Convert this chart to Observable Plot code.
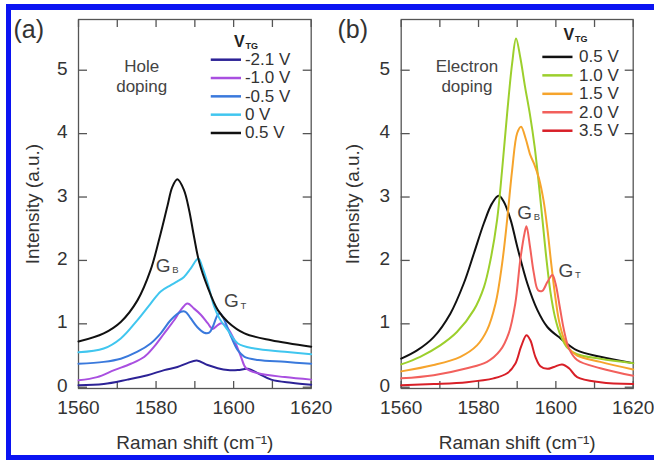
<!DOCTYPE html>
<html><head><meta charset="utf-8">
<script src="https://cdn.jsdelivr.net/npm/d3@7"></script>
<script src="https://cdn.jsdelivr.net/npm/@observablehq/plot@0.6"></script>
<style>
body{margin:0;background:#fff;}
#wrap{position:relative;width:654px;height:460px;overflow:hidden;background:#fff;font-family:"Liberation Sans",Arial,sans-serif;}
#wrap svg{position:absolute;top:0;overflow:visible;background:transparent;}
#border{position:absolute;left:6px;top:4px;width:700px;height:456px;box-sizing:border-box;border-left:5px solid #0b14f2;border-top:6px solid #0b14f2;border-bottom:5px solid #0b14f2;border-right:none;z-index:5;pointer-events:none;}
</style></head><body>
<div id="wrap"><div id="border"></div></div>
<script>
// ---- axes ----
const xDomain = [1560, 1620];
const yDomain = [-0.02, 5.8];
const xTickLabels = [1560, 1580, 1600, 1620];
const xTickMarks = [1560, 1570, 1580, 1590, 1600, 1610, 1620];
const yTicks = [0, 1, 2, 3, 4, 5];

// ---- panel (a): hole doping ----
const labelsA = ["-2.1 V", "-1.0 V", "-0.5 V", "0 V", "0.5 V"];
const specA_m21 = [[1560,0.03],[1566.5,0.05],[1572.6,0.12],[1577.8,0.19],[1582.1,0.27],[1585.5,0.32],[1588.1,0.38],[1590.5,0.42],[1593.3,0.35],[1595.9,0.30],[1598.5,0.27],[1601.1,0.27],[1603.7,0.29],[1606.3,0.22],[1609.7,0.12],[1614.9,0.07],[1620,0.04]];
const specA_m10 = [[1560,0.11],[1564.8,0.16],[1569.2,0.27],[1573.5,0.37],[1577,0.48],[1579.5,0.64],[1582.1,0.85],[1584.7,1.06],[1586.4,1.22],[1588.1,1.32],[1589.8,1.24],[1591.6,1.14],[1593.3,1.01],[1594.6,0.92],[1595.9,0.98],[1596.9,1.01],[1598.5,0.93],[1600.2,0.74],[1601.9,0.48],[1603.2,0.30],[1606.3,0.22],[1613.2,0.16],[1620,0.12]];
const specA_m05 = [[1560,0.37],[1566.5,0.40],[1570.9,0.45],[1575.2,0.56],[1578.6,0.69],[1581.2,0.85],[1583.8,1.06],[1586.4,1.19],[1587.6,1.19],[1588.9,1.09],[1590.6,0.95],[1592.4,0.86],[1593.7,0.86],[1594.6,0.95],[1595.9,1.14],[1596.6,1.16],[1597.6,1.06],[1599.4,0.79],[1601.1,0.58],[1602.8,0.48],[1606.3,0.43],[1613.2,0.40],[1620,0.37]];
const specA_0 = [[1560,0.55],[1566.5,0.61],[1570.9,0.77],[1575.2,1.06],[1578.6,1.32],[1581.2,1.51],[1583.8,1.61],[1585.5,1.67],[1587.2,1.74],[1588.9,1.87],[1590.9,2.03],[1591.9,1.90],[1593.3,1.64],[1595,1.27],[1596.3,1.09],[1598.5,0.90],[1601.1,0.69],[1605.4,0.61],[1613.2,0.56],[1620,0.52]];
const specA_05 = [[1560,0.72],[1566.5,0.85],[1570.9,1.03],[1575.2,1.37],[1578.6,1.85],[1581.2,2.43],[1582.9,2.85],[1584.2,3.16],[1585.5,3.28],[1587.2,3.11],[1588.5,2.80],[1589.8,2.37],[1591.1,1.98],[1593.3,1.58],[1595.9,1.22],[1598.5,1.03],[1602.8,0.85],[1609.7,0.74],[1620,0.64]];

// ---- panel (b): electron doping ----
const labelsB = ["0.5 V", "1.0 V", "1.5 V", "2.0 V", "3.5 V"];
const specB_05 = [[1560,0.45],[1564.1,0.58],[1568.4,0.79],[1572.7,1.16],[1576.2,1.64],[1578.8,2.11],[1581.4,2.59],[1583.5,2.90],[1585.2,3.02],[1586.5,2.93],[1588.3,2.64],[1590,2.22],[1592.6,1.64],[1595.2,1.22],[1597.8,0.95],[1601.2,0.77],[1605.5,0.58],[1611.5,0.48],[1620,0.38]];
const specB_10 = [[1560,0.36],[1564.9,0.48],[1570.1,0.66],[1574.4,0.87],[1578.8,1.22],[1581.4,1.58],[1583.1,2.01],[1584.8,2.64],[1586.1,3.43],[1587.4,4.32],[1588.7,5.11],[1589.7,5.50],[1590.8,5.2],[1592.0,4.75],[1593.3,4.3],[1594.5,3.8],[1595.6,3.2],[1596.6,2.6],[1597.6,2.0],[1598.6,1.5],[1599.8,1.1],[1601.2,0.82],[1603,0.62],[1605.5,0.52],[1611.5,0.45],[1620,0.38]];
const specB_15 = [[1560,0.25],[1568.4,0.35],[1575.3,0.48],[1579.6,0.66],[1582.2,0.90],[1584.4,1.32],[1586.1,1.95],[1587.4,2.64],[1588.7,3.43],[1590,4.01],[1591,4.11],[1592.2,3.92],[1593.4,3.66],[1594.4,3.52],[1595.6,3.3],[1596.8,2.95],[1597.8,2.5],[1598.8,1.95],[1599.8,1.45],[1600.8,1.05],[1602,0.78],[1603.5,0.6],[1605.5,0.5],[1611.5,0.40],[1620,0.28]];
const specB_20 = [[1560,0.14],[1568.4,0.19],[1577,0.30],[1582.2,0.40],[1585.6,0.58],[1587.8,0.85],[1589.5,1.32],[1590.8,2.01],[1591.9,2.43],[1592.4,2.54],[1593.3,2.22],[1594.3,1.80],[1595.4,1.53],[1596.5,1.52],[1597.8,1.66],[1599.1,1.77],[1599.9,1.64],[1601,1.27],[1602.1,0.90],[1603.4,0.61],[1605.5,0.43],[1611.5,0.30],[1620,0.18]];
const specB_35 = [[1560,0.03],[1568.4,0.05],[1577,0.08],[1583.9,0.14],[1587.4,0.22],[1589.5,0.37],[1591,0.64],[1592.4,0.82],[1593.4,0.74],[1594.7,0.48],[1596,0.33],[1597.8,0.29],[1599.5,0.32],[1601.6,0.36],[1603.4,0.30],[1605.5,0.16],[1611.5,0.08],[1620,0.05]];

// ---- annotations ----
const annotA = [{main: "G", sub: "B", x: 1579.9, y: 1.82}, {main: "G", sub: "T", x: 1597.5, y: 1.26}];
const annotB = [{main: "G", sub: "B", x: 1590.0, y: 2.66}, {main: "G", sub: "T", x: 1600.7, y: 1.74}];

// ---- styles ----
const colorsA = ["#2c2296", "#a94fe0", "#3a79dc", "#40c6ef", "#111111"];
const colorsB = ["#111111", "#9ccf2c", "#f6a42c", "#f2605c", "#d81f27"];
const TXT = "#333";
const FRAME = "#555";

function panel(o) {
  const series = o.series;
  const rows = series.flatMap((s, i) => s.map(([x, y]) => ({x, y, v: o.labels[i]})));
  const L = o.legend;
  const ly = (d, i) => L.y0 - i * L.step;
  return Plot.plot({
    width: 327, height: 460,
    marginLeft: o.marginLeft, marginRight: o.marginRight, marginTop: 19, marginBottom: 72,
    x: {domain: xDomain},
    y: {domain: yDomain},
    color: {domain: o.labels, range: o.colors},
    style: {fontFamily: "'Liberation Sans', Arial, sans-serif", fontSize: "19px", background: "transparent", overflow: "visible", color: TXT},
    marks: [
      Plot.frame({stroke: FRAME, strokeWidth: 1.3}),
      Plot.axisX({anchor: "bottom", ticks: xTickMarks, tickSize: 7, dy: -7, fill: "none", stroke: FRAME, strokeWidth: 1.3}),
      Plot.axisX({anchor: "top", ticks: xTickMarks, tickSize: 7, dy: 7, fill: "none", stroke: FRAME, strokeWidth: 1.3}),
      Plot.axisY({anchor: "left", ticks: yTicks, tickSize: 9, dx: 9, fill: "none", stroke: FRAME, strokeWidth: 1.3}),
      Plot.axisY({anchor: "right", ticks: yTicks, tickSize: 9, dx: -9, fill: "none", stroke: FRAME, strokeWidth: 1.3}),
      Plot.axisX({anchor: "bottom", ticks: xTickLabels, tickSize: 0, tickPadding: 11.5, tickFormat: "d",
        label: "Raman shift (cm⁻¹)", labelAnchor: "center", labelArrow: "none", labelOffset: 60, fill: TXT}),
      Plot.axisY({anchor: "left", ticks: yTicks, tickSize: 0, tickPadding: 11, tickFormat: "d", dy: -1.5,
        label: "Intensity (a.u.)", labelAnchor: "center", labelArrow: "none", labelOffset: o.labelOffset, fill: TXT}),
      Plot.line(rows, {x: "x", y: "y", z: "v", stroke: "v", strokeWidth: 2, curve: "catmull-rom"}),
      // panel tag and doping note
      Plot.text([o.tag], {frameAnchor: "top-left", dx: o.tagDx, dy: 18, lineAnchor: "bottom", textAnchor: "start", fontSize: 25, fill: TXT}),
      Plot.text([o.note], {x: o.noteX, y: 5.2, lineAnchor: "top", lineHeight: 1.18, fontSize: 17, fill: "#444"}),
      // legend
      Plot.text(["V"], {x: o.vtg.x, y: o.vtg.y, lineAnchor: "bottom", textAnchor: "start", fontSize: 16, fontWeight: "bold", fill: "#222"}),
      Plot.text(["TG"], {x: o.vtg.x, y: o.vtg.y, dx: 11.5, dy: 2, lineAnchor: "bottom", textAnchor: "start", fontSize: 9, fontWeight: "bold", fill: "#222"}),
      Plot.link(o.labels, {x1: L.x1, x2: L.x2, y1: ly, y2: ly, stroke: d => d, strokeWidth: 2.5}),
      Plot.text(o.labels, {x: L.tx, y: ly, text: d => d, textAnchor: "start", lineAnchor: "middle", fontSize: 17, fill: TXT}),
      // peak annotations
      Plot.text(o.annot, {x: "x", y: "y", text: "main", lineAnchor: "bottom", textAnchor: "start", fontSize: 19, fill: "#444"}),
      Plot.text(o.annot, {x: "x", y: "y", text: "sub", dx: 16.5, dy: 1.5, lineAnchor: "bottom", textAnchor: "start", fontSize: 9.5, fill: "#444"})
    ]
  });
}

const wrap = document.getElementById("wrap");
const svgA = panel({
  series: [specA_m21, specA_m10, specA_m05, specA_0, specA_05], labels: labelsA, colors: colorsA,
  marginLeft: 78, marginRight: 16.3, labelOffset: 53, tag: "(a)", tagDx: -65,
  note: "Hole\ndoping", noteX: 1576.3,
  vtg: {x: 1600.1, y: 5.36},
  legend: {x1: 1594.1, x2: 1601.9, tx: 1602.9, y0: 5.166, step: 0.289},
  annot: annotA
});
svgA.style.left = "0px";
const svgB = panel({
  series: [specB_05, specB_10, specB_15, specB_20, specB_35], labels: labelsB, colors: colorsB,
  marginLeft: 73.7, marginRight: 21.3, labelOffset: 56, tag: "(b)", tagDx: -63.7,
  note: "Electron\ndoping", noteX: 1577.0,
  vtg: {x: 1602.0, y: 5.47},
  legend: {x1: 1596.5, x2: 1604.3, tx: 1606.0, y0: 5.21, step: 0.291},
  annot: annotB
});
svgB.style.left = "327px";
wrap.insertBefore(svgA, wrap.firstChild);
wrap.insertBefore(svgB, wrap.firstChild.nextSibling);
</script>
</body></html>
